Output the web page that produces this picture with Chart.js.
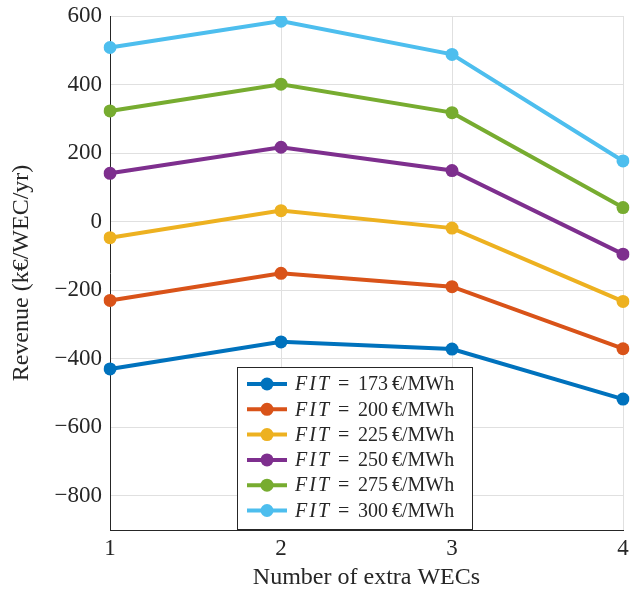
<!DOCTYPE html>
<html>
<head>
<meta charset="utf-8">
<script src="https://cdn.jsdelivr.net/npm/chart.js@4"></script>
<style>
  html, body { margin: 0; padding: 0; background: #fff; }
  #wrap { width: 630px; height: 592px; }
</style>
</head>
<body>
<div id="wrap"><canvas id="chart" width="630" height="592"></canvas></div>
<script>
// ---- data ----
const wecCounts = ['1', '2', '3', '4'];
const fitLevels = [173, 200, 225, 250, 275, 300];
const rev173 = [-430, -351, -372, -518];
const rev200 = [-230, -151, -190, -371];
const rev225 = [-47, 32, -19, -233];
const rev250 = [141, 217, 149, -95];
const rev275 = [323, 401, 318, 41];
const rev300 = [508, 585, 488, 177];
const yTicks = [-800, -600, -400, -200, 0, 200, 400, 600];

const lineColors = ['#0072BD', '#D95319', '#EDB120', '#7E2F8E', '#77AC30', '#4DBEEE'];
const seriesValues = [rev173, rev200, rev225, rev250, rev275, rev300];

const FONT = '"Liberation Serif", "DejaVu Serif", serif';
const TEXT = '#262626';
const GRID = '#e0e0e0';

// legend with italic "FIT" (drawn by hand, chart.js legend can't mix styles)
const fitLegend = {
    id: 'fitLegend',
    afterDraw(chart) {
        const ctx = chart.ctx;
        const x0 = 237, y0 = 367, w = 235, h = 162;
        ctx.save();
        ctx.fillStyle = '#fff';
        ctx.fillRect(x0, y0, w, h);
        ctx.strokeStyle = TEXT;
        ctx.lineWidth = 1;
        ctx.strokeRect(x0 + 0.5, y0 + 0.5, w, h);
        chart.data.datasets.forEach((ds, i) => {
            const cy = y0 + 17 + i * 25.3;
            ctx.strokeStyle = ds.borderColor;
            ctx.lineWidth = 4;
            ctx.beginPath();
            ctx.moveTo(x0 + 10, cy);
            ctx.lineTo(x0 + 50, cy);
            ctx.stroke();
            ctx.fillStyle = ds.borderColor;
            ctx.beginPath();
            ctx.arc(x0 + 30, cy, 6.5, 0, Math.PI * 2);
            ctx.fill();
            ctx.fillStyle = TEXT;
            ctx.textBaseline = 'middle';
            ctx.font = 'italic 20px ' + FONT;
            ctx.letterSpacing = '2px';
            ctx.fillText('FIT', x0 + 58, cy + 1);
            ctx.letterSpacing = '0px';
            ctx.font = '20px ' + FONT;
            ctx.fillText('=', x0 + 101, cy + 1);
            ctx.fillText(String(fitLevels[i]), x0 + 121, cy + 1);
            ctx.fillText('\u20AC/MWh', x0 + 155, cy + 1);
        });
        ctx.restore();
    }
};

new Chart(document.getElementById('chart'), {
    type: 'line',
    data: {
        labels: wecCounts,
        datasets: seriesValues.map((vals, i) => ({
            label: 'FIT = ' + fitLevels[i] + ' \u20AC/MWh',
            data: vals,
            borderColor: lineColors[i],
            backgroundColor: lineColors[i],
            borderWidth: 4,
            pointRadius: 6.5,
            pointBorderWidth: 0,
            tension: 0,
            fill: false
        }))
    },
    options: {
        responsive: false,
        animation: false,
        layout: { padding: { top: 16, right: 7, left: 0, bottom: 0 } },
        plugins: {
            legend: { display: false },
            tooltip: { enabled: false }
        },
        scales: {
            x: {
                type: 'category',
                offset: false,
                grid: { color: GRID, drawTicks: false },
                border: { color: TEXT, width: 1 },
                ticks: { color: TEXT, font: { family: FONT, size: 23 }, padding: 5, maxRotation: 0 },
                title: {
                    display: true,
                    text: 'Number of extra WECs',
                    color: TEXT,
                    font: { family: FONT, size: 24 },
                    padding: { top: 0, bottom: 0 }
                },
                afterFit(s) {
                    s.height = 62;
                    s.paddingLeft = 0;
                    s.paddingRight = 0;
                }
            },
            y: {
                min: -900,
                max: 600,
                afterBuildTicks(s) { s.ticks = yTicks.map(v => ({ value: v })); },
                grid: { color: GRID, drawTicks: false },
                border: { color: TEXT, width: 1 },
                ticks: {
                    color: TEXT,
                    font: { family: FONT, size: 23 },
                    padding: 8,
                    callback: v => (v < 0 ? '\u2212' + Math.abs(v) : String(v))
                },
                title: {
                    display: true,
                    text: 'Revenue (k\u20AC/WEC/yr)',
                    color: TEXT,
                    font: { family: FONT, size: 24 },
                    padding: { top: 7, bottom: 0 }
                },
                afterFit(s) {
                    s.width = 110;
                    s.paddingTop = 0;
                    s.paddingBottom = 0;
                }
            }
        }
    },
    plugins: [fitLegend]
});
</script>
</body>
</html>
